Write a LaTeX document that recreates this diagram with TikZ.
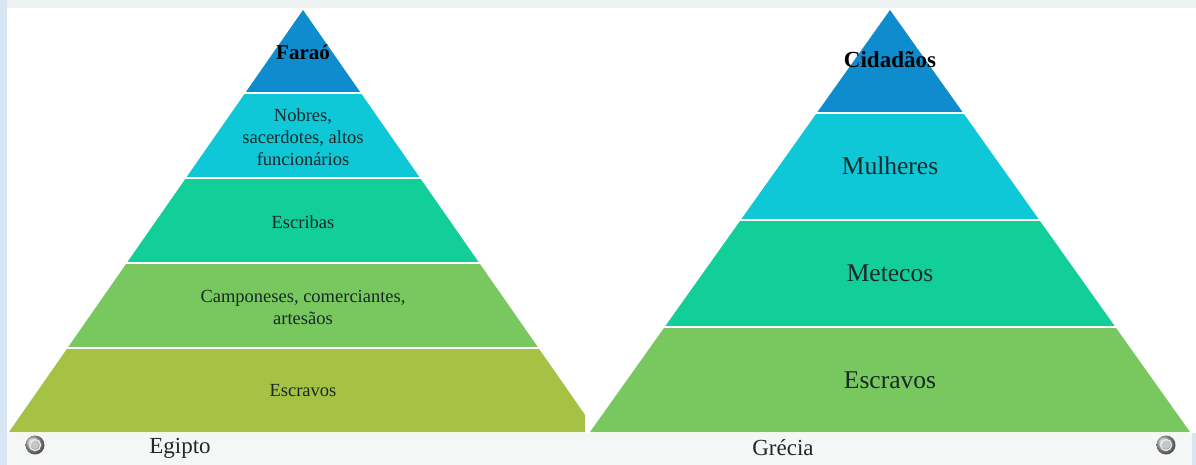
\documentclass[tikz,border=0pt]{standalone}
\usepackage{fontspec}
\setmainfont{Liberation Serif}
\definecolor{cblue}{RGB}{14,140,205}
\definecolor{ccyan}{RGB}{14,200,216}
\definecolor{cteal}{RGB}{18,206,152}
\definecolor{cgreen}{RGB}{120,200,95}
\definecolor{colive}{RGB}{166,194,68}
\definecolor{ctext}{RGB}{25,40,40}
\definecolor{stripgrey}{RGB}{238,241,241}
\definecolor{stripblue}{RGB}{214,231,243}
\definecolor{bottomstrip}{RGB}{245,247,247}
\tikzset{
  lbl/.style={font=\fontsize{18.5}{22}\selectfont, text=ctext, align=center, inner sep=0pt},
  rlbl/.style={font=\fontsize{25.5}{28}\selectfont, text=ctext, align=center, inner sep=0pt},
  toplbl/.style={font=\bfseries\fontsize{21}{24}\selectfont, text=black, align=center, inner sep=0pt},
  caption/.style={font=\fontsize{23}{26}\selectfont, text=black!85, inner sep=0pt},
  sep/.style={draw=white, line width=2pt},
}
\newcommand{\bandL}[3]{%
  \begin{scope}
    \clip (0,#1) rectangle (585,#2);
    \fill[#3] (303,10) -- (9,432) -- (597,432) -- cycle;
  \end{scope}}
\newcommand{\bandR}[3]{%
  \begin{scope}
    \clip (586,#1) rectangle (1196,#2);
    \fill[#3] (890,10) -- (590,432) -- (1190,432) -- cycle;
  \end{scope}}
\newcommand{\knob}[2]{%
  \shade[ball color=gray!55] (#1,#2) circle (9.5);
  \draw[gray!20, line width=1.5pt] (#1,#2) circle (5.5);
  \fill[gray!45] (#1,#2) circle (4);}
\begin{document}
\begin{tikzpicture}[x=1pt,y=-1pt]
  \useasboundingbox (0,0) rectangle (1196,465);
  \fill[white] (0,0) rectangle (1196,465);
  \fill[stripgrey] (0,0) rectangle (1196,8);
  \fill[bottomstrip] (0,433) rectangle (1196,465);
  \fill[stripblue] (0,0) rectangle (7,465);
  \fill[stripblue] (1192,433) rectangle (1196,465);
  % Egypt pyramid
  \bandL{0}{93}{cblue}
  \bandL{93}{178}{ccyan}
  \bandL{178}{263}{cteal}
  \bandL{263}{348}{cgreen}
  \bandL{348}{432}{colive}
  \foreach \y in {93,178,263,348} \draw[sep] (9,\y) -- (590,\y);
  % Greece pyramid
  \bandR{0}{113}{cblue}
  \bandR{113}{220}{ccyan}
  \bandR{220}{327}{cteal}
  \bandR{327}{432}{cgreen}
  \foreach \y in {113,220,327} \draw[sep] (590,\y) -- (1190,\y);
  \fill[white] (585,9) rectangle (590,432);
  % labels
  \node[toplbl] (farao) at (303,52) {Faraó};
  \node[lbl] (nobres) at (303,137) {Nobres,\\sacerdotes, altos\\funcionários};
  \node[lbl] (escribas) at (303,222) {Escribas};
  \node[lbl] (camp) at (303,307) {Camponeses, comerciantes,\\artesãos};
  \node[lbl] (escrE) at (303,391) {Escravos};
  \node[toplbl, font=\bfseries\fontsize{23}{26}\selectfont] (cid) at (890,60) {Cidadãos};
  \node[rlbl] (mulh) at (890,166) {Mulheres};
  \node[rlbl] (met) at (890,273) {Metecos};
  \node[rlbl] (escrG) at (890,380) {Escravos};
  \node[caption] (egito) at (180,448) {Egipto};
  \node[caption] (grecia) at (783,448) {Grécia};
  \knob{35}{445}
  \knob{1166}{445}
\end{tikzpicture}
\end{document}
